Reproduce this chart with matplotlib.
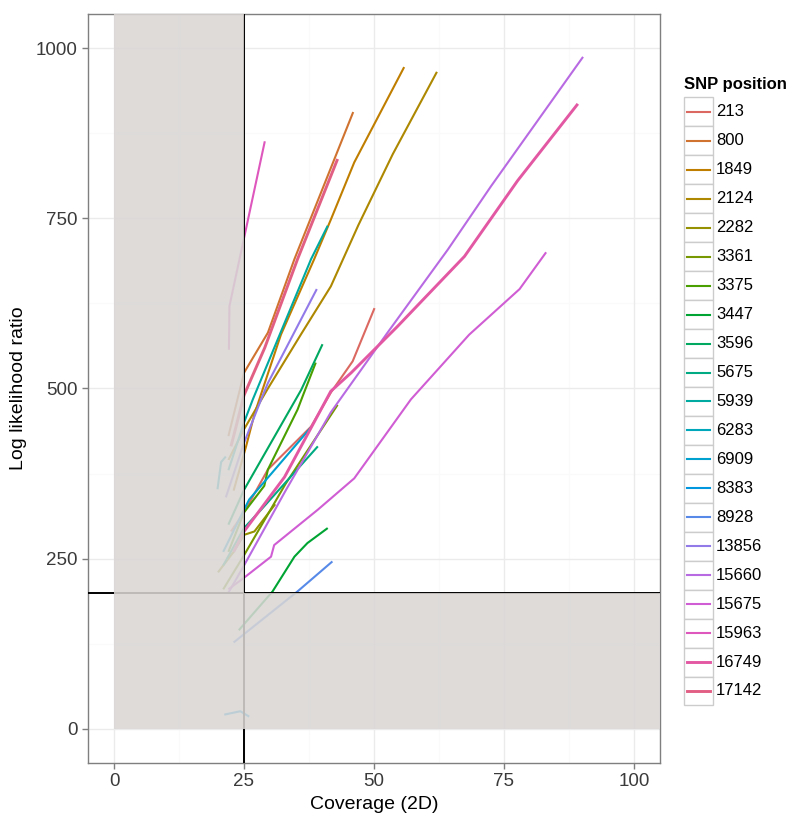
import numpy as np
import matplotlib
matplotlib.use("Agg")
import matplotlib.pyplot as plt
from matplotlib.patches import Rectangle
from matplotlib.lines import Line2D

plt.rcParams['font.family'] = ['Liberation Sans', 'DejaVu Sans']

# --- data --------------------------------------------------------------------
snp_labels = ["213", "800", "1849", "2124", "2282", "3361", "3375", "3447",
              "3596", "5675", "5939", "6283", "6909", "8383", "8928", "13856",
              "15660", "15675", "15963", "16749", "17142"]

cov_213 = [22.5, 25, 29.6, 37.9, 41.7, 45.9, 50.1]
llr_213 = [290, 318, 381, 444, 494, 540, 618]
cov_800 = [22, 25, 29.6, 34.7, 46]
llr_800 = [430, 523, 582, 690, 906]
cov_1849 = [23, 25.4, 27, 28.6, 32.1, 38.5, 41.7, 46.2, 55.8]
llr_1849 = [350, 415, 462, 499, 579, 690, 748, 832, 972]
cov_2124 = [22, 25, 29.6, 36, 41.7, 47, 53.6, 62.1]
llr_2124 = [395, 440, 500, 580, 650, 740, 844, 965]
cov_2282 = [20, 23, 25, 27, 31]
llr_2282 = [230, 260, 285, 290, 330]
cov_3361 = [21, 25, 33, 43]
llr_3361 = [205, 255, 360, 476]
cov_3375 = [22, 25, 28.9, 29.6, 35.3, 36.3, 38.8]
llr_3375 = [260, 318, 357, 381, 469, 489, 538]
cov_3447 = [24, 30.5, 34.7, 37.2, 41.1]
llr_3447 = [145, 202, 253, 273, 295]
cov_3596 = [22, 25, 36, 40.1]
llr_3596 = [300, 351, 498, 565]
cov_5675 = [21, 25, 28.3, 39.2]
llr_5675 = [240, 295, 322, 415]
cov_5939 = [22, 25, 26.7, 37.9, 41.1]
llr_5939 = [380, 450, 484, 690, 739]
cov_6283 = [19.9, 20.6, 21.5]
llr_6283 = [352, 392, 400]
cov_6909 = [21, 25, 26, 37.9]
llr_6909 = [260, 322, 337, 443]
cov_8383 = [21.2, 24.3, 26]
llr_8383 = [21, 26, 18]
cov_8928 = [23, 35.3, 42]
llr_8928 = [127, 202, 246]
cov_13856 = [21.5, 25, 28.3, 29.6, 39]
llr_13856 = [340, 420, 484, 508, 646]
cov_15660 = [22, 25, 33, 41.7, 52.6, 64.2, 72.5, 90.2]
llr_15660 = [200, 240, 350, 465, 582, 704, 797, 987]
cov_15675 = [22, 25, 30.2, 30.8, 39.2, 46.2, 57.1, 68.3, 78, 83.1]
llr_15675 = [205, 222, 253, 270, 322, 368, 484, 579, 646, 700]
cov_15963 = [22.1, 22.2, 29.0]
llr_15963 = [557, 621, 863]
cov_16749 = [23, 25, 32.8, 41.7, 45.6, 54.5, 67.4, 77.6, 89.2]
llr_16749 = [260, 290, 370, 496, 523, 591, 694, 805, 918]
cov_17142 = [22.5, 25, 29, 35.3, 43]
llr_17142 = [415, 490, 560, 690, 837]

coverage = [cov_213, cov_800, cov_1849, cov_2124, cov_2282, cov_3361, cov_3375,
            cov_3447, cov_3596, cov_5675, cov_5939, cov_6283, cov_6909, cov_8383,
            cov_8928, cov_13856, cov_15660, cov_15675, cov_15963, cov_16749,
            cov_17142]
llr = [llr_213, llr_800, llr_1849, llr_2124, llr_2282, llr_3361, llr_3375,
       llr_3447, llr_3596, llr_5675, llr_5939, llr_6283, llr_6909, llr_8383,
       llr_8928, llr_13856, llr_15660, llr_15675, llr_15963, llr_16749,
       llr_17142]

cov_cut = 25
llr_cut = 200


# --- ggplot-like hue palette (HCL -> sRGB) ----------------------------------
def hcl_hex(h, c=88, l=58):
    hr = np.deg2rad(h)
    U, V = c * np.cos(hr), c * np.sin(hr)
    Xn, Yn, Zn = 95.047, 100.0, 108.883
    un = 4 * Xn / (Xn + 15 * Yn + 3 * Zn)
    vn = 9 * Yn / (Xn + 15 * Yn + 3 * Zn)
    Y = Yn * ((l + 16) / 116) ** 3
    u = U / (13 * l) + un
    v = V / (13 * l) + vn
    X = 9.0 * Y * u / (4 * v)
    Z = -X / 3 - 5 * Y + 3 * Y / v
    xyz = np.array([X, Y, Z]) / 100
    M = np.array([[3.2404542, -1.5371385, -0.4985314],
                  [-0.9692660, 1.8760108, 0.0415560],
                  [0.0556434, -0.2040259, 1.0572252]])
    rgb = M @ xyz
    rgb = np.where(rgb <= 0.0031308, 12.92 * rgb, 1.055 * np.clip(rgb, 0, None) ** (1 / 2.4) - 0.055)
    return np.clip(rgb, 0, 1)


n = len(snp_labels)
hues = np.linspace(15, 375, n + 1)[:-1]
colors = [hcl_hex(h) for h in hues]
widths = [1.5] * n
widths[-1] = widths[-2] = 2.1

# --- figure -------------------------------------------------------------------
fig = plt.figure(figsize=(8, 8.22), dpi=100)
ax = fig.add_axes([0.11, 0.0718, 0.715, 0.9112])

ax.set_xlim(-5, 105)
ax.set_ylim(-50, 1050)

for xv in [12.5, 37.5, 62.5, 87.5]:
    ax.axvline(xv, color="#FAFAFA", lw=0.8, zorder=0)
for yv in [125, 375, 625, 875]:
    ax.axhline(yv, color="#FAFAFA", lw=0.8, zorder=0)
for xv in [0, 25, 50, 75, 100]:
    ax.axvline(xv, color="#EBEBEB", lw=1.0, zorder=0)
for yv in [0, 250, 500, 750, 1000]:
    ax.axhline(yv, color="#EBEBEB", lw=1.0, zorder=0)

for i in range(n):
    ax.plot(coverage[i], llr[i], color=colors[i], lw=widths[i], zorder=2,
            solid_capstyle="butt")

ax.axvline(cov_cut, color="black", lw=1.4, zorder=3)
ax.axhline(llr_cut, color="black", lw=1.4, zorder=3)

# shaded "fail" regions drawn on top, semi-opaque
ax.add_patch(Rectangle((0, 0), cov_cut, 2000, facecolor="#D9D6D4",
                       edgecolor="none", alpha=0.87, zorder=4))
ax.add_patch(Rectangle((cov_cut, 0), 200, llr_cut, facecolor="#D9D6D4",
                       edgecolor="none", alpha=0.87, zorder=4))

ax.set_xticks([0, 25, 50, 75, 100])
ax.set_yticks([0, 250, 500, 750, 1000])
ax.tick_params(colors="#7F7F7F", labelcolor="#3A3A3A", labelsize=13.5,
               length=4, width=1)
for s in ax.spines.values():
    s.set_color("#7F7F7F")
    s.set_linewidth(1.0)

ax.set_xlabel("Coverage (2D)", fontsize=14, labelpad=4)
ax.set_ylabel("Log likelihood ratio", fontsize=14, labelpad=6)

# --- legend (drawn by hand, ggplot style) ------------------------------------
W, H = 800.0, 822.0
fig.text(684 / W, 1 - 85 / H, "SNP position", fontsize=12, fontweight="bold",
         ha="left", va="center")
key_top = 97.5
key_h = 28.95
for i in range(n):
    y0 = key_top + i * key_h
    fig.patches.append(Rectangle((684 / W, 1 - (y0 + key_h) / H), 28.5 / W,
                                 key_h / H, transform=fig.transFigure,
                                 facecolor="white", edgecolor="#CCCCCC", lw=1.0))
    yc = 1 - (y0 + key_h / 2) / H
    fig.lines.append(Line2D([687 / W, 710 / W], [yc, yc], transform=fig.transFigure,
                            color=colors[i], lw=widths[i]))
    fig.text(716 / W, yc, snp_labels[i], fontsize=12, ha="left", va="center")

fig.savefig("out.png", dpi=100)
